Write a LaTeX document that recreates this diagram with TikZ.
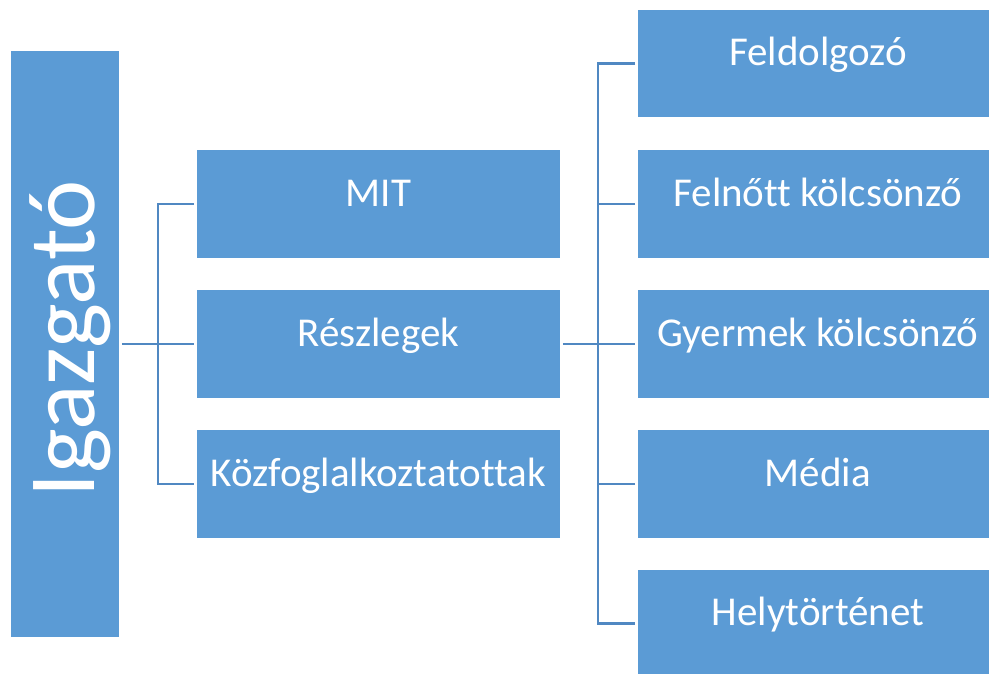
\documentclass[tikz,border=0pt]{standalone}
\usepackage{fontspec}
\setmainfont[Ligatures=CommonOff]{Carlito}
\definecolor{boxblue}{HTML}{5B9BD5}
\definecolor{linkblue}{HTML}{5088C2}
\begin{document}
\begin{tikzpicture}[x=1pt,y=-1pt,
  box/.style={rectangle, fill=boxblue, draw=white, line width=0.8pt, inner sep=0pt,
    text=white, font=\fontsize{41}{46}\selectfont, anchor=north west,
    text height=25pt, text depth=20pt},
  link/.style={draw=linkblue, line width=2.6pt}]
\useasboundingbox (0,0) rectangle (989,673);
\fill[white] (0,0) rectangle (989,673);
% director
\node[box, minimum width=109pt, minimum height=587pt] (igaz) at (10,50) {};
\node[text=white, font=\fontsize{95}{104}\selectfont, rotate=90, inner sep=0pt,
  text height=80pt, text depth=21pt] (igazt) at ([yshift=5pt]igaz.center) {Igazgató};
% middle column
\node[box, minimum width=364pt, minimum height=109pt] (mit) at (196,149) {MIT};
\node[box, minimum width=364pt, minimum height=109pt] (resz) at (196,289) {Részlegek};
\node[box, minimum width=364pt, minimum height=109pt] (kozf) at (196,429) {Közfoglalkoztatottak};
% right column
\node[box, minimum width=361pt, minimum height=108pt] (feld) at (637,9) {Feldolgozó};
\node[box, minimum width=361pt, minimum height=109pt] (feln) at (637,149) {Felnőtt kölcsönző};
\node[box, minimum width=361pt, minimum height=109pt] (gyer) at (637,289) {Gyermek kölcsönző};
\node[box, minimum width=361pt, minimum height=109pt] (medi) at (637,429) {Média};
\node[box, minimum width=361pt, minimum height=108pt] (hely) at (637,569) {Helytörténet};
% connectors left
\draw[link] ([xshift=2pt]igaz.east) -- ([xshift=-2pt]resz.west);
\draw[link] ([xshift=-2pt]mit.west) -- ++(-36,0) |- ([xshift=-2pt]kozf.west);
% connectors right
\draw[link] ([xshift=2pt]resz.east) -- ([xshift=-2pt]gyer.west);
\draw[link] ([xshift=-2pt]feld.west) -- ++(-37,0) |- ([xshift=-2pt]hely.west);
\draw[link] ([xshift=-2pt]feln.west) -- ++(-37,0);
\draw[link] ([xshift=-2pt]medi.west) -- ++(-37,0);
\end{tikzpicture}
\end{document}
